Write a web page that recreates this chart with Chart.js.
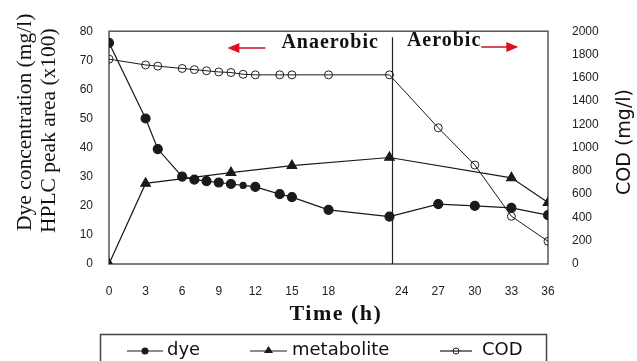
<!DOCTYPE html>
<html>
<head>
<meta charset="utf-8">
<script src="https://cdn.jsdelivr.net/npm/chart.js@4/dist/chart.umd.min.js"></script>
<style>
html,body{margin:0;padding:0;background:#fff;}
#wrap{width:637px;height:361px;position:relative;}
</style>
</head>
<body>
<div id="wrap"><canvas id="c" width="637" height="361"></canvas></div>
<script>
// ---- data ----
const timeDye = [0, 3, 4, 6, 7, 8, 9, 10, 11, 12, 14, 15, 18, 23, 27, 30, 33, 36];
const dyeConc = [76, 50, 39.5, 30, 29, 28.5, 28, 27.5, 27, 26.5, 24, 23, 18.6, 16.3, 20.6, 20, 19.3, 16.8];
const timeMetabolite = [0, 3, 10, 15, 23, 33, 36];
const metaboliteArea = [0, 27.7, 31.4, 33.8, 36.6, 29.6, 21.1];
const timeCOD = [0, 3, 4, 6, 7, 8, 9, 10, 11, 12, 14, 15, 18, 23, 27, 30, 33, 36];
const codValues = [1760, 1710, 1700, 1680, 1670, 1660, 1650, 1645, 1630, 1625, 1625, 1625, 1625, 1625, 1170, 850, 410, 195];
const xTicks = [0, 3, 6, 9, 12, 15, 18, 24, 27, 30, 33, 36];
const leftTicks = [0, 10, 20, 30, 40, 50, 60, 70, 80];
const rightTicks = [0, 200, 400, 600, 800, 1000, 1200, 1400, 1600, 1800, 2000];
const phaseBoundary = 23.2;
const seriesNames = ['dye', 'metabolite', 'COD'];
const leftTitle = ['Dye concentration (mg/l)', 'HPLC peak area (x100)'];
const rightTitle = 'COD (mg/l)';
const xTitle = 'Time (h)';
const phaseLabels = ['Anaerobic', 'Aerobic'];

const toXY = (xs, ys) => xs.map((x, i) => ({x: x, y: ys[i]}));
const lineCol = '#1a1a1a';
const tickFont = {family: 'Liberation Sans', size: 12};

const decorPlugin = {
  id: 'decor',
  beforeDatasetsDraw(chart) {
    const ctx = chart.ctx, a = chart.chartArea;
    const xs = chart.scales.x;
    ctx.save();
    ctx.strokeStyle = '#555';
    ctx.lineWidth = 1.5;
    ctx.strokeRect(a.left, a.top, a.right - a.left, a.bottom - a.top);
    const bx = Math.round(xs.getPixelForValue(phaseBoundary)) + 0.5;
    ctx.strokeStyle = '#222';
    ctx.lineWidth = 1.2;
    ctx.beginPath();
    ctx.moveTo(bx, a.top + 6);
    ctx.lineTo(bx, a.bottom);
    ctx.stroke();
    ctx.restore();
  },
  afterDraw(chart) {
    const ctx = chart.ctx;
    const xs = chart.scales.x;
    const bx = xs.getPixelForValue(phaseBoundary);
    ctx.save();
    ctx.fillStyle = '#111';
    ctx.font = 'bold 20px "Liberation Serif"';
    ctx.letterSpacing = '1px';
    ctx.textBaseline = 'middle';
    ctx.textAlign = 'right';
    ctx.fillText(phaseLabels[0], bx - 13, 43);
    ctx.textAlign = 'left';
    ctx.fillText(phaseLabels[1], bx + 15, 41);
    const aw = ctx.measureText(phaseLabels[1]).width;
    const anEnd = bx - 13 - ctx.measureText(phaseLabels[0]).width;
    ctx.letterSpacing = '0px';
    ctx.strokeStyle = '#c8102e';
    ctx.fillStyle = '#e00d1c';
    ctx.lineWidth = 1.5;
    let y = 48, x0 = anEnd - 16, x1 = anEnd - 54;
    ctx.beginPath(); ctx.moveTo(x0, y); ctx.lineTo(x1 + 10, y); ctx.stroke();
    ctx.beginPath(); ctx.moveTo(x1, y); ctx.lineTo(x1 + 12, y - 5); ctx.lineTo(x1 + 12, y + 5); ctx.closePath(); ctx.fill();
    y = 47; x0 = bx + 15 + aw; x1 = x0 + 37;
    ctx.beginPath(); ctx.moveTo(x0, y); ctx.lineTo(x1 - 10, y); ctx.stroke();
    ctx.beginPath(); ctx.moveTo(x1, y); ctx.lineTo(x1 - 12, y - 5); ctx.lineTo(x1 - 12, y + 5); ctx.closePath(); ctx.fill();

    // axis titles
    ctx.fillStyle = '#111';
    ctx.font = '21.5px "Liberation Serif"';
    ctx.textAlign = 'left';
    ctx.textBaseline = 'middle';
    ctx.save();
    ctx.translate(0, 231);
    ctx.rotate(-Math.PI / 2);
    ctx.fillText(leftTitle[0], 0, 25);
    ctx.fillText(leftTitle[1], -2, 49);
    ctx.restore();

    ctx.save();
    ctx.font = '19px "DejaVu Sans"';
    ctx.textAlign = 'center';
    ctx.translate(625, 142);
    ctx.rotate(-Math.PI / 2);
    ctx.fillText(rightTitle, 0, 0);
    ctx.restore();

    ctx.font = 'bold 22px "Liberation Serif"';
    ctx.letterSpacing = '1.5px';
    ctx.textAlign = 'center';
    ctx.fillText(xTitle, 336, 314);
    ctx.letterSpacing = '0px';

    // legend box
    ctx.strokeStyle = '#444';
    ctx.lineWidth = 1.5;
    ctx.strokeRect(100.5, 334.5, 446, 40);
    const ly = 351;
    const items = [
      {l0: 127, l1: 163, tx: 167, ds: chart.data.datasets[0]},
      {l0: 250, l1: 287, tx: 292, ds: chart.data.datasets[1]},
      {l0: 440, l1: 472, tx: 482, ds: chart.data.datasets[2]}
    ];
    ctx.font = '18px "DejaVu Sans"';
    ctx.textAlign = 'left';
    ctx.textBaseline = 'middle';
    items.forEach((it, i) => {
      ctx.strokeStyle = lineCol;
      ctx.lineWidth = 1.2;
      ctx.beginPath(); ctx.moveTo(it.l0, ly); ctx.lineTo(it.l1, ly); ctx.stroke();
      const cx = (it.l0 + it.l1) / 2;
      ctx.fillStyle = lineCol;
      if (i === 0) {
        ctx.beginPath(); ctx.arc(cx, ly, 3.5, 0, Math.PI * 2); ctx.fill();
      } else if (i === 1) {
        ctx.beginPath(); ctx.moveTo(cx, ly - 5); ctx.lineTo(cx + 4.5, ly + 2); ctx.lineTo(cx - 4.5, ly + 2); ctx.closePath(); ctx.fill();
      } else {
        ctx.lineWidth = 1;
        ctx.beginPath(); ctx.arc(cx, ly, 3, 0, Math.PI * 2); ctx.stroke();
      }
      ctx.fillStyle = '#111';
      ctx.fillText(it.ds.label, it.tx, ly - 1);
    });
    ctx.restore();
  }
};

new Chart(document.getElementById('c'), {
  type: 'line',
  data: {
    datasets: [
      {
        label: seriesNames[0], data: toXY(timeDye, dyeConc), yAxisID: 'y',
        borderColor: lineCol, borderWidth: 1.2, backgroundColor: lineCol,
        pointStyle: 'circle', pointRadius: timeDye.map(t => t === 11 ? 3 : 4.5),
        pointBackgroundColor: lineCol, pointBorderColor: lineCol, tension: 0
      },
      {
        label: seriesNames[1], data: toXY(timeMetabolite, metaboliteArea), yAxisID: 'y',
        borderColor: lineCol, borderWidth: 1.2, backgroundColor: lineCol,
        pointStyle: 'triangle', pointRadius: 5.5,
        pointBackgroundColor: lineCol, pointBorderColor: lineCol, tension: 0
      },
      {
        label: seriesNames[2], data: toXY(timeCOD, codValues), yAxisID: 'y1',
        borderColor: lineCol, borderWidth: 1, backgroundColor: 'rgba(0,0,0,0)',
        pointStyle: 'circle', pointRadius: 4,
        pointBackgroundColor: 'rgba(0,0,0,0)', pointBorderColor: '#222', pointBorderWidth: 1, tension: 0
      }
    ]
  },
  options: {
    responsive: false,
    animation: false,
    layout: {padding: {top: 29, left: 0, right: 0, bottom: 0}},
    plugins: {legend: {display: false}, tooltip: {enabled: false}},
    scales: {
      x: {
        type: 'linear', min: 0, max: 36,
        afterBuildTicks: s => { s.ticks = xTicks.map(v => ({value: v})); },
        afterFit: s => { s.height = 97; },
        grid: {display: false, drawTicks: false},
        border: {display: false},
        ticks: {font: tickFont, color: '#222', padding: 20, maxRotation: 0, autoSkip: false, callback: v => String(v)}
      },
      y: {
        position: 'left', min: 0, max: 80,
        afterBuildTicks: s => { s.ticks = leftTicks.map(v => ({value: v})); },
        afterFit: s => { s.width = 109; },
        grid: {display: false, drawTicks: false},
        border: {display: false},
        ticks: {font: tickFont, color: '#222', padding: 16, callback: v => String(v)}
      },
      y1: {
        position: 'right', min: 0, max: 2000,
        afterBuildTicks: s => { s.ticks = rightTicks.map(v => ({value: v})); },
        afterFit: s => { s.width = 89; },
        grid: {display: false, drawTicks: false},
        border: {display: false},
        ticks: {font: tickFont, color: '#222', padding: 24, callback: v => String(v)}
      }
    }
  },
  plugins: [decorPlugin]
});
</script>
</body>
</html>
